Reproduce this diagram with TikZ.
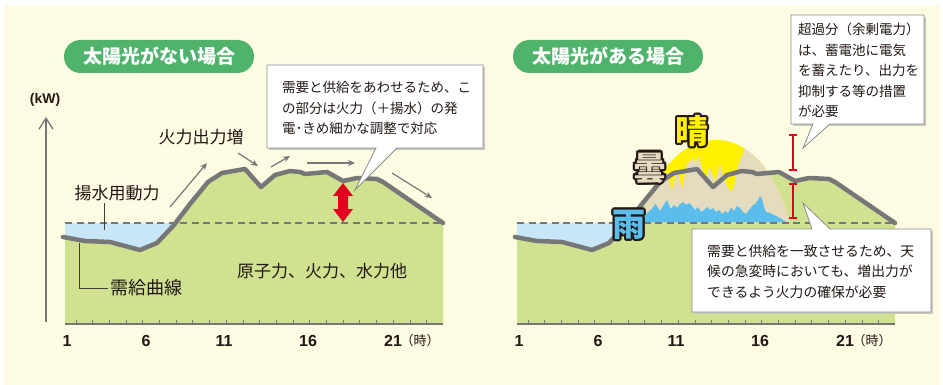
\documentclass[tikz,border=0pt]{standalone}
\usepackage{fontspec}
\setmainfont{Liberation Sans}
\newfontfamily\jp{Noto Sans CJK JP}
\usetikzlibrary{arrows.meta}

\definecolor{cream}{HTML}{FDFBE2}
\definecolor{grass}{HTML}{D0E290}
\definecolor{pool}{HTML}{C8E6F8}
\definecolor{pill}{HTML}{4FB36C}
\definecolor{curvegray}{HTML}{777777}
\definecolor{ink}{HTML}{231815}
\definecolor{alert}{HTML}{E3001F}
\definecolor{sun}{HTML}{FFF100}
\definecolor{cloud}{HTML}{E5DCC0}
\definecolor{rain}{HTML}{5BBDEB}
\definecolor{shade}{HTML}{C9C9C0}

\tikzset{
  pilltag/.style={fill=pill, text=white, rounded corners=16.5pt, minimum width=190pt,
    minimum height=33pt, inner sep=0pt, font=\jp\bfseries\fontsize{19}{19}\selectfont},
  demand/.style={draw=curvegray, line width=4.5pt, line join=round, line cap=round},
  levelline/.style={draw=curvegray, line width=1.3pt, dash pattern=on 7pt off 4.5pt},
  trend/.style={draw=curvegray, line width=1.2pt, -{Stealth[length=7pt,width=6pt]}},
  callout/.style={fill=white, draw=curvegray!85, line width=0.8pt, line join=miter},
  calloutshade/.style={fill=shade},
  calltext/.style={font=\jp\fontsize{13.5}{20.5}\selectfont, text=ink, align=left,
    inner sep=0pt, anchor=west},
  chartlabel/.style={font=\jp\fontsize{17}{17}\selectfont, text=ink, inner sep=0pt},
  hour/.style={font=\bfseries\fontsize{16}{16}\selectfont, text=ink, inner sep=0pt},
  hourunit/.style={font=\jp\fontsize{13}{13}\selectfont, text=ink, inner sep=0pt},
  leader/.style={draw=ink!85, line width=1pt},
  wx/.style={font=\jp\bfseries\fontsize{33}{33}\selectfont, inner sep=0pt},
  surplus/.style={draw=alert, line width=1.8pt, {Bar[width=8pt]}-{Bar[width=8pt]}},
}

% area under the demand curve, with the pumped-storage pool on the left
\newcommand\demandarea{%
  \fill[pool] (65,223) rectangle (178,252);
  \fill[grass] (65,324) -- (65,237.5) -- (85,241) -- (110,242) -- (140,250) -- (157,243)
    -- (174,225) -- (190,204) -- (208,182) -- (222,173) -- (245,169) -- (261,187)
    -- (275,175) -- (290,171) -- (300,172) -- (305,174) -- (327,172) -- (343,181)
    -- (357,178) -- (377,179) -- (383,182) -- (443,223) -- (443,324) -- cycle;
}
% the demand curve itself
\newcommand\demandline{%
  \draw[demand] (63,237) -- (85,241) -- (110,242) -- (140,250) -- (157,243)
    -- (174,225) -- (190,204) -- (208,182) -- (222,173) -- (245,169) -- (261,187)
    -- (275,175) -- (290,171) -- (300,172) -- (305,174) -- (327,172) -- (343,181)
    -- (357,178) -- (377,179) -- (383,182) -- (443,223);
}
% time axis with ticks and hour labels
\newcommand\timeaxis{%
  \foreach \i in {0,...,21}
    \draw[curvegray, line width=1pt] ({76+\i*16.7},324) -- ++(0,-4.5);
  \draw[curvegray, line width=2.2pt] (65,324) -- (443,324);
  \node[hour] at (67,341) {1};
  \node[hour] at (146,341) {6};
  \node[hour] at (224,341) {11};
  \node[hour] at (308,341) {16};
  \node[hour] at (393,341) {21};
  \node[hourunit] at (420,341) {（時）};
}
% outlined weather glyph: name, position, fill colour, character
\newcommand\wxglyph[4]{%
  \foreach \a in {0,30,...,330}
    \node[wx, text=ink, shift={(\a:2.3)}] at (#2) {#4};
  \node[wx, text=#3] (#1) at (#2) {#4};
}

\begin{document}
\begin{tikzpicture}[x=1pt, y=-1pt]
\useasboundingbox (0,0) rectangle (943,385);
\fill[white] (0,0) rectangle (943,385);
\fill[cream] (4,5) rectangle (940,385);

% ===== left panel: without solar =====
\node[pilltag] (titleL) at (159,56.5) {太陽光がない場合};

\node[font=\bfseries\fontsize{14}{14}\selectfont, text=ink, inner sep=0pt] (unit) at (45,100) {(kW)};
\coordinate (yaxisbase) at (46,322);
\coordinate (yaxistop) at (46,117);
\draw[curvegray, line width=1.3pt, -{Straight Barb[length=11pt,width=14pt]}] (yaxisbase) -- (yaxistop);

\demandarea
\draw[levelline] (65,223) -- (443,223);
\demandline
\timeaxis

% thermal output trend arrows
\coordinate (t1a) at (170,207); \coordinate (t1b) at (207,163);
\coordinate (t2a) at (238,153); \coordinate (t2b) at (258,166);
\coordinate (t3a) at (271,167); \coordinate (t3b) at (290,156);
\coordinate (t4a) at (307,163); \coordinate (t4b) at (355,163);
\coordinate (t5a) at (392,173); \coordinate (t5b) at (432,198);
\draw[trend] (t1a) -- (t1b);
\draw[trend] (t2a) -- (t2b);
\draw[trend] (t3a) -- (t3b);
\draw[trend] (t4a) -- (t4b);
\draw[trend] (t5a) -- (t5b);

% adjustment band
\fill[alert] (343,183) -- (353,196) -- (348,196) -- (348,209) -- (353,209) -- (343,222)
  -- (333,209) -- (338,209) -- (338,196) -- (333,196) -- cycle;

\node[chartlabel] (thermal) at (201,137) {火力出力増};
\node[chartlabel] (pumplbl) at (117,193) {揚水用動力};
\coordinate (pumptip) at (104,230);
\draw[leader] (pumplbl.south -| pumptip) ++(0,2) -- (pumptip);
\node[chartlabel, font=\jp\fontsize{18}{18}\selectfont, anchor=west] (curvelbl) at (110,288) {需給曲線};
\coordinate (curvetip) at (79,243);
\draw[leader] (curvetip) |- ([xshift=-2pt]curvelbl.west);
\node[chartlabel] (baseload) at (322,271) {原子力、火力、水力他};

% callout
\fill[calloutshade] (269,67) -- (485,67) -- (485,150) -- (269,150) -- cycle;
\path[callout] (267,65) -- (483,65) -- (483,148) -- (397,148) -- (355,190) -- (376,148)
  -- (267,148) -- cycle;
\node[calltext] (noteL) at (282,108) {需要と供給をあわせるため、こ\\の部分は火力（＋揚水）の発\\電･きめ細かな調整で対応};

% ===== right panel: with solar =====
\node[pilltag] (titleR) at (608,56.5) {太陽光がある場合};

\begin{scope}[xshift=452pt]
  \demandarea
\end{scope}

% solar output band: sunny, cloudy, rainy
\begin{scope}
  \clip (640,222) .. controls (652,178) and (678,140) .. (717,140)
    .. controls (750,140) and (778,175) .. (790,222) -- cycle;
  \fill[sun] (630,130) rectangle (800,224);
  \fill[cloud] (630,224) -- (630,182) -- (657,184) -- (664,177) -- (667,171) -- (670,183)
    -- (672,191) -- (675,178) -- (677,170) -- (680,182) -- (682,189) -- (685,172)
    -- (687,164) -- (691,161) -- (693,158) -- (696,163) -- (698,156) -- (701,165)
    -- (704,176) -- (706,179) -- (708,172) -- (710,167) -- (713,176) -- (715,182)
    -- (718,172) -- (720,164) -- (723,176) -- (726,184) -- (729,189) -- (732,192)
    -- (735,182) -- (737,170) -- (740,160) -- (744,152) -- (744,130) -- (800,130)
    -- (800,224) -- cycle;
  \fill[rain] (640,224) -- (643,218) -- (648,212) -- (652,209) -- (655,204) -- (657,206)
    -- (660,211) -- (662,208) -- (665,203) -- (667,200) -- (669,205) -- (671,209)
    -- (674,205) -- (677,208) -- (680,204) -- (683,202) -- (686,205) -- (689,203)
    -- (692,206) -- (695,210) -- (698,207) -- (701,212) -- (704,210) -- (707,207)
    -- (710,210) -- (713,208) -- (716,212) -- (719,210) -- (722,214) -- (725,211)
    -- (728,213) -- (731,208) -- (734,211) -- (737,206) -- (740,208) -- (743,212)
    -- (746,214) -- (749,210) -- (752,206) -- (755,204) -- (758,200) -- (760,196)
    -- (762,199) -- (764,207) -- (766,212) -- (770,213) -- (774,215) -- (778,217)
    -- (783,220) -- (790,224) -- cycle;
\end{scope}

\begin{scope}[xshift=452pt]
  \draw[levelline] (65,223) -- (443,223);
  \demandline
  \timeaxis
\end{scope}

% surplus and reserve markers
\coordinate (sup1) at (793,134); \coordinate (sup2) at (793,171);
\coordinate (res1) at (793,183); \coordinate (res2) at (793,219);
\draw[surplus] (sup1) -- (sup2);
\draw[surplus] (res1) -- (res2);

% weather glyphs
\wxglyph{sunny}{692,131}{sun}{晴}
\wxglyph{cloudy}{650,168}{cloud}{曇}
\wxglyph{rainy}{629,225}{rain}{雨}

% callouts
\fill[calloutshade] (793,17) -- (926,17) -- (926,126) -- (793,126) -- cycle;
\path[callout] (791,15) -- (924,15) -- (924,124) -- (830,124) -- (803,148) -- (813,124)
  -- (791,124) -- cycle;
\node[calltext] (noteR) at (798,70.5) {超過分（余剰電力）\\は、蓄電池に電気\\を蓄えたり、出力を\\抑制する等の措置\\が必要};

\fill[calloutshade] (694,231) -- (933,231) -- (933,314) -- (694,314) -- cycle;
\path[callout] (692,229) -- (812,229) -- (803,203) -- (830,229) -- (931,229) -- (931,312)
  -- (692,312) -- cycle;
\node[calltext, font=\jp\fontsize{13.8}{20.5}\selectfont] (noteR2) at (707,271.5) {需要と供給を一致させるため、天\\候の急変時においても、増出力が\\できるよう火力の確保が必要};
\end{tikzpicture}
\end{document}
